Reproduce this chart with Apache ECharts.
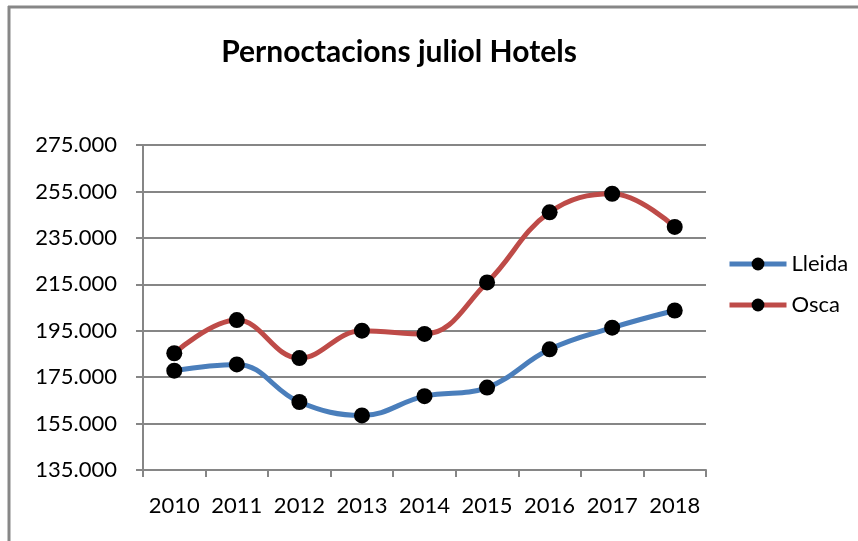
<!DOCTYPE html>
<html>
<head>
<meta charset="utf-8">
<script src="https://cdn.jsdelivr.net/npm/echarts@6/dist/echarts.min.js"></script>
<style>
html, body { margin: 0; padding: 0; background: #fff; }
#main { width: 858px; height: 541px; }
</style>
</head>
<body>
<div id="main"></div>
<script>
// dades del gràfic
var anys = ['2010', '2011', '2012', '2013', '2014', '2015', '2016', '2017', '2018'];
var lleida = [177800, 180500, 164300, 158500, 166800, 170500, 187000, 196300, 203700];
var osca = [185300, 199600, 183200, 195000, 193600, 215800, 246000, 254000, 239700];

var font = 'Lato, "Open Sans", sans-serif';

var myChart = echarts.init(document.getElementById('main'));
var option = {
	backgroundColor: '#fff',
	animation: false,
	title: {
		text: 'Pernoctacions juliol Hotels',
		left: 394,
		top: 32,
		textAlign: 'center',
		textStyle: { fontFamily: font, fontWeight: 'bold', fontSize: 30, color: '#000' }
	},
	legend: {
		orient: 'vertical',
		left: 722,
		top: 248,
		itemWidth: 57,
		itemHeight: 16,
		itemGap: 19,
		lineStyle: { width: 5 },
		textStyle: { fontFamily: font, fontSize: 22, color: '#000' },
		data: ['Lleida', 'Osca']
	},
	grid: { left: 143, right: 152, top: 145, bottom: 71, containLabel: false },
	xAxis: {
		type: 'category',
		data: anys,
		boundaryGap: true,
		axisLine: { lineStyle: { color: '#868686', width: 2 } },
		axisTick: { show: true, length: 7, lineStyle: { color: '#868686', width: 2 } },
		axisLabel: { interval: 0, margin: 25, fontFamily: font, fontSize: 22, color: '#000' }
	},
	yAxis: {
		type: 'value',
		min: 135000,
		max: 275000,
		interval: 20000,
		axisLine: { show: true, lineStyle: { color: '#868686', width: 2 } },
		axisTick: { show: true, length: 7, lineStyle: { color: '#868686', width: 2 } },
		splitLine: { lineStyle: { color: '#868686', width: 2 } },
		axisLabel: {
			margin: 26, fontFamily: font, fontSize: 22, color: '#000',
			formatter: function (v) {
				return String(v).replace(/\B(?=(\d{3})+(?!\d))/g, '.');
			}
		}
	},
	graphic: [
		{ type: 'line', shape: { x1: 8, y1: 7, x2: 858, y2: 7 }, style: { stroke: '#878787', lineWidth: 3 } },
		{ type: 'line', shape: { x1: 9, y1: 6, x2: 9, y2: 541 }, style: { stroke: '#878787', lineWidth: 3 } }
	],
	series: [
		{
			name: 'Lleida',
			type: 'line',
			data: lleida,
			smooth: 0.4,
			symbol: 'circle',
			symbolSize: 16,
			itemStyle: { color: '#000' },
			lineStyle: { color: '#4a7ebb', width: 5 }
		},
		{
			name: 'Osca',
			type: 'line',
			data: osca,
			smooth: 0.4,
			symbol: 'circle',
			symbolSize: 16,
			itemStyle: { color: '#000' },
			lineStyle: { color: '#be4b48', width: 5 }
		}
	]
};
myChart.setOption(option);
</script>
</body>
</html>
